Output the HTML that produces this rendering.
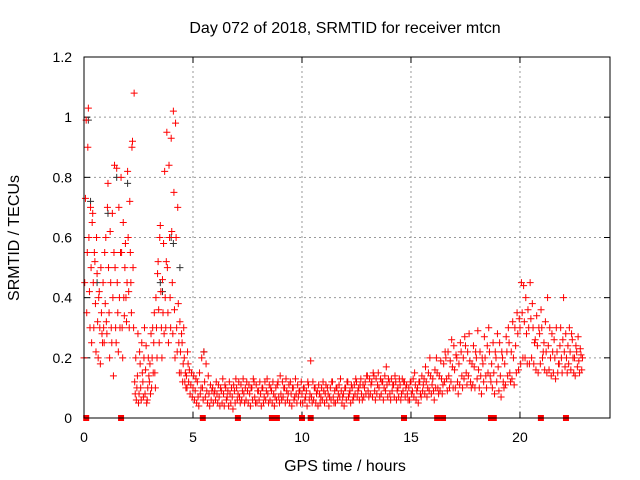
<!DOCTYPE html>
<html><head><meta charset="utf-8"><style>
html,body{margin:0;padding:0;background:#fff;}
svg{display:block;font-family:"Liberation Sans",sans-serif;}
</style></head><body>
<svg id="chart" width="640" height="480" viewBox="0 0 640 480" xmlns="http://www.w3.org/2000/svg">
<rect width="640" height="480" fill="#fff"/>
<text x="345" y="33" font-size="16" text-anchor="middle" fill="#000">Day 072 of 2018, SRMTID for receiver mtcn</text>
<text x="345" y="471" font-size="16" text-anchor="middle" fill="#000">GPS time / hours</text>
<text transform="translate(19,238) rotate(-90)" font-size="16" text-anchor="middle" fill="#000">SRMTID / TECUs</text>
<g id="grid"></g>
<g id="ticks"></g>
<g id="blackpts"></g>
<g id="redpts"></g>
<g id="gaps"></g>
<rect x="84" y="57" width="526" height="361" fill="none" stroke="#000" stroke-width="1"/>
</svg>
<script>
const xTicks=[0,5,10,15,20];
const yTicks=[0,0.2,0.4,0.6,0.8,1,1.2];
const yTickLabels=["0","0.2","0.4","0.6","0.8","1","1.2"];
const startHour=0, stepHour=0.1;
const redValues=[
[.2,.45,.73],[.99,.35,.55,.9],[1.03,.6,.42,.3],[.7,.5,.25,.65],[.68,.45,.3,.55],[.52,.38,.22,.6],[.48,.32,.2,.4],[.42,.3,.18,.5],[.35,.28,.25,.45],[.3,.25,.55,.38],
[.6,.32,.28,.7],[.78,.5,.35,.2],[.62,.45,.3,.25],[.68,.4,.14,.55],[.84,.5,.3,.25],[.83,.45,.35,.22],[.7,.4,.3,.55],[.8,.55,.3,.2],[.65,.4,.34,.5],[.58,.4,.32,.45],
[.82,.6,.42,.3],[.72,.55,.45,.35],[.9,.92,.5,.3],[1.08,.12,.08,.2],[.06,.1,.14,.28],[.05,.08,.22,.18],[.1,.06,.25,.15],[.12,.07,.2,.3],[.08,.16,.24,.05],[.06,.1,.2,.14],
[.12,.18,.08,.28],[.1,.2,.3,.15],[.25,.35,.15,.1],[.4,.3,.2,.48],[.52,.36,.25,.6],[.64,.42,.3,.2],[.46,.35,.58,.28],[.82,.4,.3,.52],[.95,.5,.35,.25],[.84,.6,.4,.3],
[.93,.62,.45,.28],[1.02,.75,.36,.2],[.98,.6,.3,.22],[.7,.38,.25,.15],[.32,.22,.15,.28],[.25,.12,.18,.3],[.2,.12,.15,.1],[.14,.1,.22,.18],[.12,.16,.08],[.11,.15,.07],
[.1,.14,.06],[.09,.13,.05],[.12,.07,.04],[.15,.08,.1],[.2,.1,.06],[.22,.12,.07],[.18,.09,.05],[.14,.08,.04],[.11,.06,.09],[.1,.05,.08],
[.09,.06,.12],[.08,.05,.11],[.07,.04,.1],[.09,.05,.13],[.08,.04,.11],[.1,.06,.07],[.09,.04,.12],[.08,.05,.1],[.07,.03,.11],[.09,.05,.13],
[.1,.06,.08],[.12,.07,.05],[.11,.06,.09],[.13,.08,.05],[.1,.06,.12],[.09,.05,.11],[.08,.04,.1],[.1,.06,.13],[.12,.07,.05],[.11,.05,.09],
[.09,.06,.12],[.08,.04,.1],[.1,.05,.07],[.12,.06,.09],[.13,.08,.05],[.11,.06,.1],[.09,.05,.12],[.08,.04,.07],[.1,.06,.11],[.12,.07,.05],
[.14,.08,.06],[.12,.07,.1],[.1,.05,.13],[.09,.06,.08],[.11,.05,.12],[.08,.04,.1],[.1,.06,.07],[.13,.08,.05],[.11,.07,.09],[.09,.05,.12],
[.08,.05,.1],[.1,.06,.07],[.09,.04,.12],[.11,.06,.08],[.19,.07,.05],[.12,.06,.1],[.1,.05,.08],[.09,.04,.11],[.08,.05,.07],[.1,.06,.12],
[.09,.05,.08],[.11,.06,.1],[.08,.04,.07],[.1,.06,.12],[.12,.07,.05],[.09,.05,.1],[.1,.06,.08],[.11,.07,.13],[.09,.05,.07],[.08,.04,.1],
[.1,.06,.12],[.12,.07,.08],[.09,.05,.11],[.1,.06,.07],[.11,.08,.13],[.12,.07,.09],[.1,.06,.11],[.13,.08,.06],[.11,.07,.1],[.12,.08,.14],
[.14,.09,.07],[.13,.08,.11],[.12,.07,.15],[.14,.09,.06],[.13,.08,.11],[.15,.1,.07],[.13,.08,.12],[.12,.06,.1],[.14,.09,.17],[.11,.07,.13],
[.12,.08,.06],[.13,.09,.11],[.11,.07,.14],[.12,.06,.09],[.1,.07,.13],[.11,.06,.08],[.13,.09,.12],[.12,.07,.1],[.11,.08,.06],[.1,.06,.12],
[.12,.08,.09],[.13,.07,.15],[.11,.06,.09],[.1,.05,.12],[.12,.08,.07],[.14,.09,.11],[.13,.08,.17],[.12,.07,.1],[.15,.09,.2],[.14,.08,.11],
[.13,.09,.06],[.16,.1,.2],[.15,.1,.08],[.14,.09,.19],[.13,.08,.11],[.18,.12,.22],[.2,.13,.09],[.22,.14,.1],[.19,.12,.26],[.17,.1,.24],
[.16,.1,.21],[.2,.12,.08],[.18,.11,.25],[.22,.14,.1],[.2,.13,.27],[.24,.15,.11],[.22,.14,.28],[.19,.12,.1],[.18,.11,.24],[.17,.1,.22],
[.2,.13,.29],[.16,.1,.22],[.14,.08,.2],[.18,.12,.27],[.2,.14,.1],[.24,.15,.3],[.22,.14,.12],[.18,.1,.25],[.15,.08,.22],[.2,.12,.28],
[.17,.09,.25],[.14,.07,.22],[.2,.12,.1],[.18,.11,.27],[.22,.14,.3],[.25,.15,.12],[.22,.13,.32],[.2,.11,.3],[.24,.15,.35],[.28,.16,.33],
[.3,.18,.45],[.35,.2,.44],[.32,.2,.4],[.28,.18,.36],[.3,.18,.45],[.33,.2,.38],[.3,.18,.25],[.26,.16,.34],[.24,.15,.3],[.28,.18,.36],
[.3,.2,.22],[.25,.16,.32],[.22,.15,.4],[.24,.16,.3],[.2,.14,.28],[.22,.15,.26],[.2,.13,.3],[.22,.15,.18],[.18,.24,.3],[.2,.15,.26],
[.4,.22,.17],[.28,.2,.15],[.24,.18,.3],[.22,.16,.28],[.26,.2,.15],[.2,.14,.24],[.22,.17,.27],[.19,.15,.23],[.21,.16,.2]
];
const blackTimes=[0.2,0.6,1.5,2.0,3.5,3.6,4.0,4.1,4.4,5.5,0.3,1.1];
const blackValues=[0.99,0.45,0.8,0.78,0.45,0.42,0.6,0.58,0.5,0.22,0.72,0.68];
const gapHours=[0.1,1.7,5.45,7.06,8.62,8.85,10.0,10.4,12.5,14.68,16.2,16.47,18.67,18.8,20.96,22.11];

const NS="http://www.w3.org/2000/svg";
const X0=84,X1=610,Y0=418,Y1=57,XMAX=24.13,YMAX=1.2;
function xs(h){return X0+(X1-X0)*h/XMAX;}
function ys(v){return Y0-(Y0-Y1)*v/YMAX;}
const grid=document.getElementById('grid'),ticks=document.getElementById('ticks');
function mk(tag,attrs,parent){const e=document.createElementNS(NS,tag);for(const k in attrs)e.setAttribute(k,attrs[k]);parent.appendChild(e);return e;}
xTicks.forEach(t=>{const x=xs(t);
 if(t>0){const g=mk('line',{x1:x,x2:x,y1:Y0,y2:Y1,stroke:'#999','stroke-dasharray':'2,3'},grid);
 
 }
 mk('line',{x1:x,x2:x,y1:Y0,y2:Y0-6,stroke:'#000'},ticks);mk('line',{x1:x,x2:x,y1:Y1,y2:Y1+6,stroke:'#000'},ticks);
 const tx=mk('text',{x:x,y:Y0+24,'font-size':14,'text-anchor':'middle'},ticks);tx.textContent=String(t);
 
 
});
yTicks.forEach((t,i)=>{const y=ys(t);
 if(t>0&&t<YMAX){const g=mk('line',{x1:X0,x2:X1,y1:y,y2:y,stroke:'#999','stroke-dasharray':'2,3'},grid);
 
 }
 mk('line',{x1:X0,x2:X0+6,y1:y,y2:y,stroke:'#000'},ticks);mk('line',{x1:X1,x2:X1-6,y1:y,y2:y,stroke:'#000'},ticks);
 const tx=mk('text',{x:X0-12,y:y+5,'font-size':14,'text-anchor':'end'},ticks);tx.textContent=yTickLabels[i];
 
 
});
function plus(x,y){return `M${x-3.5},${y}h7M${x},${y-3.5}v7`;}
let bd='';blackTimes.forEach((t,i)=>{bd+=plus(xs(t),ys(blackValues[i]));});
const bp=mk('path',{d:bd,stroke:'#333',fill:'none','stroke-width':1},document.getElementById('blackpts'));


let rd='';redValues.forEach((arr,k)=>{const h=startHour+k*stepHour;arr.forEach((v,j)=>{rd+=plus(xs(h+j*stepHour/arr.length),ys(v));});});
const rp=mk('path',{d:rd,stroke:'#f00',fill:'none','stroke-width':1},document.getElementById('redpts'));


gapHours.forEach(h=>{const r=mk('rect',{x:xs(h)-3,y:Y0-3,width:6,height:6,fill:'#f00'},document.getElementById('gaps'));
 
 
});
</script>
</body></html>
